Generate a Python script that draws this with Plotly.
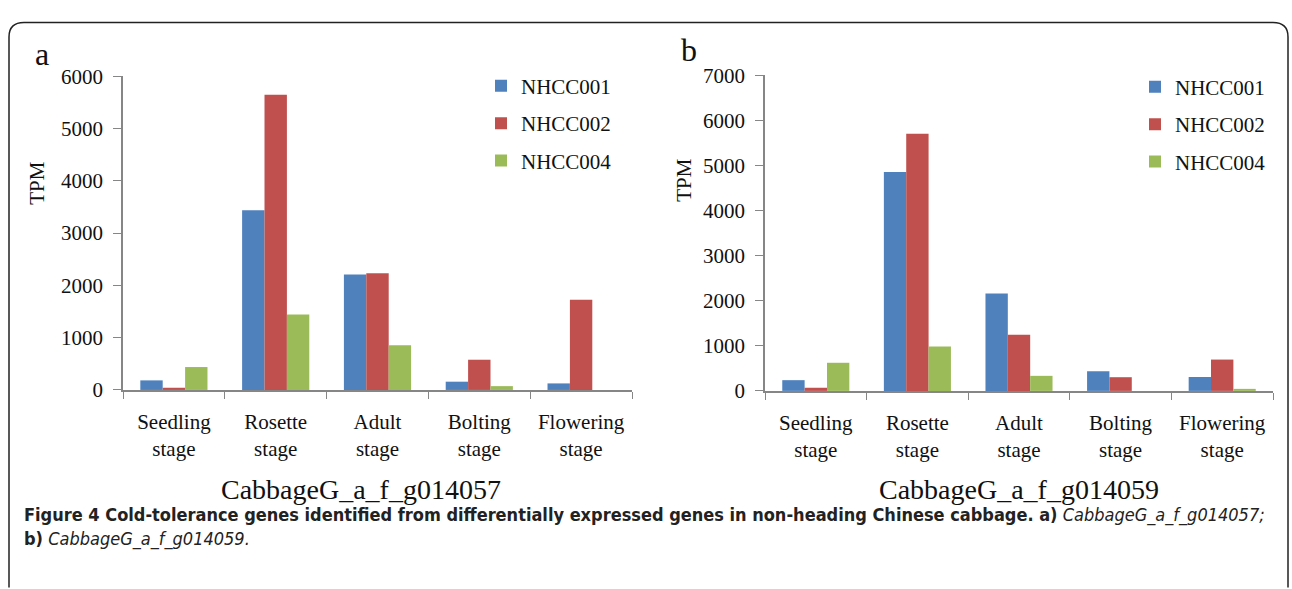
import plotly.graph_objects as go

W, H = 1292, 589

categories = ["Seedling<br>stage", "Rosette<br>stage", "Adult<br>stage", "Bolting<br>stage", "Flowering<br>stage"]
series_names = ["NHCC001", "NHCC002", "NHCC004"]
colors = ["#4F81BD", "#C0504D", "#9BBB59"]

a_nhcc001 = [183, 3435, 2207, 158, 125]
a_nhcc002 = [42, 5647, 2231, 578, 1726]
a_nhcc004 = [438, 1441, 857, 73, 0]

b_nhcc001 = [238, 4855, 2162, 436, 308]
b_nhcc002 = [70, 5705, 1247, 304, 695]
b_nhcc004 = [624, 985, 334, 0, 45]

gene_a = "CabbageG_a_f_g014057"
gene_b = "CabbageG_a_f_g014059"

SERIF = "Liberation Serif, Times New Roman, serif"
CAPF = "Liberation Sans Narrow, DejaVu Sans Condensed, Open Sans, sans-serif"


def px(x):
    return x / W


def py(y):
    return 1 - y / H


fig = go.Figure()
for vals, name, col in zip([a_nhcc001, a_nhcc002, a_nhcc004], series_names, colors):
    fig.add_trace(go.Bar(x=categories, y=vals, name=name, marker=dict(color=col, line=dict(width=0)),
                         xaxis="x", yaxis="y", legend="legend", legendgroup="a" + name))
for vals, name, col in zip([b_nhcc001, b_nhcc002, b_nhcc004], series_names, colors):
    fig.add_trace(go.Bar(x=categories, y=vals, name=name, marker=dict(color=col, line=dict(width=0)),
                         xaxis="x2", yaxis="y2", legend="legend2", legendgroup="b" + name))

axis_col = "#868686"
xcommon = dict(type="category", tickson="boundaries", ticks="outside", ticklen=7, tickcolor=axis_col,
               showline=True, linecolor=axis_col, linewidth=1.5, showgrid=False, zeroline=False,
               tickfont=dict(family=SERIF, size=21, color="#111"), ticklabelstandoff=12,
               fixedrange=True)
ycommon = dict(ticks="outside", ticklen=8, tickcolor=axis_col, showline=True, linecolor=axis_col,
               linewidth=1.5, showgrid=False, zeroline=False, dtick=1000,
               tickfont=dict(family=SERIF, size=21, color="#111"), ticklabelstandoff=6)

legcommon = dict(font=dict(family=SERIF, size=21, color="#111"), bgcolor="rgba(0,0,0,0)",
                 traceorder="grouped", tracegroupgap=7, xanchor="left", yanchor="top",
                 itemclick=False, itemdoubleclick=False)

fig.update_layout(
    width=W, height=H, autosize=False,
    margin=dict(l=0, r=0, t=0, b=0),
    paper_bgcolor="white", plot_bgcolor="white",
    barmode="group", bargap=0.34, bargroupgap=0,
    xaxis=dict(domain=[px(123), px(632)], anchor="y", **xcommon),
    yaxis=dict(domain=[py(394), py(67)], anchor="x", range=[0, 6000], **ycommon),
    xaxis2=dict(domain=[px(765), px(1273)], anchor="y2", **xcommon),
    yaxis2=dict(domain=[py(395), py(66)], anchor="x2", range=[0, 7000], **ycommon),
    legend=dict(x=px(481), y=py(56), **legcommon),
    legend2=dict(x=px(1135), y=py(57), **legcommon),
    showlegend=True,
)

annotations = [
    dict(text="a", x=px(42), y=py(44), font=dict(family=SERIF, size=32, color="#111")),
    dict(text="b", x=px(689), y=py(40), font=dict(family=SERIF, size=32, color="#111")),
    dict(text="TPM", x=px(37), y=py(178), textangle=-90, font=dict(family=SERIF, size=21, color="#111")),
    dict(text="TPM", x=px(684), y=py(175), textangle=-90, font=dict(family=SERIF, size=21, color="#111")),
    dict(text=gene_a, x=px(361), y=py(498), font=dict(family=SERIF, size=28, color="#111")),
    dict(text=gene_b, x=px(1019), y=py(498), font=dict(family=SERIF, size=28, color="#111")),
    dict(text="<b>Figure 4 Cold-tolerance genes identified from differentially expressed genes in non-heading Chinese cabbage. a)</b> "
              "<i>CabbageG_a_f_g014057;</i>",
         x=px(22), y=py(524), xanchor="left", font=dict(family=CAPF, size=18, color="#222")),
    dict(text="<b>b)</b> <i>CabbageG_a_f_g014059.</i>",
         x=px(22), y=py(549), xanchor="left", font=dict(family=CAPF, size=18, color="#222")),
]
for an in annotations:
    an.setdefault("xanchor", "center")
    an.update(xref="paper", yref="paper", showarrow=False, yanchor="middle")
fig.update_layout(annotations=annotations)

# rounded frame
x0, x1, y0, y1, r = 9, 1288, 11, 600, 15
path = (f"M {px(x0)},{py(y1)} L {px(x0)},{py(y0 + r)} Q {px(x0)},{py(y0)} {px(x0 + r)},{py(y0)} "
        f"L {px(x1 - r)},{py(y0)} Q {px(x1)},{py(y0)} {px(x1)},{py(y0 + r)} L {px(x1)},{py(y1)}")
fig.add_shape(type="path", path=path, xref="paper", yref="paper", line=dict(color="#222", width=1.5))

fig.write_html("out.html", config={"displayModeBar": False},
               post_script="document.body.style.margin='0';document.body.style.overflow='hidden';")
